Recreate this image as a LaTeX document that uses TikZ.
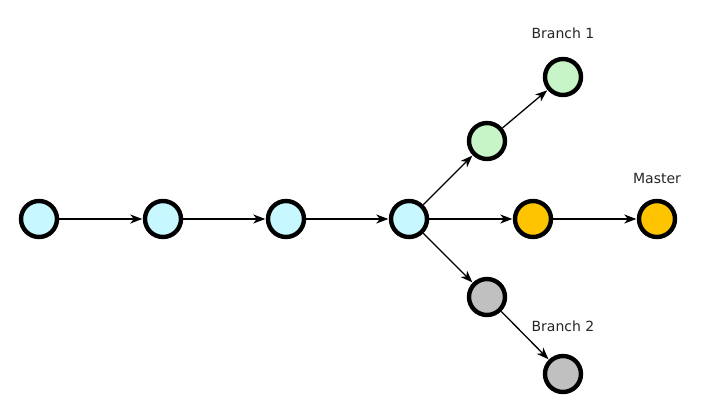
\documentclass[tikz,border=0pt]{standalone}
\usepackage{fontspec}
\setmainfont{DejaVu Sans}
\usetikzlibrary{arrows.meta}
\definecolor{cyanfill}{HTML}{C8F8FF}
\definecolor{greenfill}{HTML}{C8F5C8}
\definecolor{yellowfill}{HTML}{FFC400}
\definecolor{grayfill}{HTML}{C0C0C0}
\tikzset{
  commit/.style={circle, draw=black, line width=4.4pt, minimum size=36pt, inner sep=0pt},
  link/.style={line width=1.3pt, -{Stealth[length=12pt,width=9pt,inset=3.5pt]}, shorten >=0.5pt},
  lbl/.style={font=\fontsize{14}{16}\selectfont, text=black!85}
}
\begin{document}
\begin{tikzpicture}[x=1pt,y=-1pt]
\useasboundingbox (0,0) rectangle (705,411);
\node[commit, fill=cyanfill] (c1) at (39,219) {};
\node[commit, fill=cyanfill] (c2) at (163,219) {};
\node[commit, fill=cyanfill] (c3) at (286,219) {};
\node[commit, fill=cyanfill] (c4) at (409,219) {};
\node[commit, fill=yellowfill] (m1) at (533,219) {};
\node[commit, fill=yellowfill] (m2) at (657,219) {};
\node[commit, fill=greenfill] (b1a) at (487,141) {};
\node[commit, fill=greenfill] (b1b) at (563,77) {};
\node[commit, fill=grayfill] (b2a) at (487,297) {};
\node[commit, fill=grayfill] (b2b) at (563,374) {};
\draw[link] (c1) -- (c2);
\draw[link] (c2) -- (c3);
\draw[link] (c3) -- (c4);
\draw[link] (c4) -- (m1);
\draw[link] (m1) -- (m2);
\draw[link] (c4) -- (b1a);
\draw[link] (b1a) -- (b1b);
\draw[link] (c4) -- (b2a);
\draw[link] (b2a) -- (b2b);
\node[lbl] (l1) at (563,33) {Branch 1};
\node[lbl] (lm) at (657,178) {Master};
\node[lbl] (l2) at (563,326) {Branch 2};
\end{tikzpicture}
\end{document}
